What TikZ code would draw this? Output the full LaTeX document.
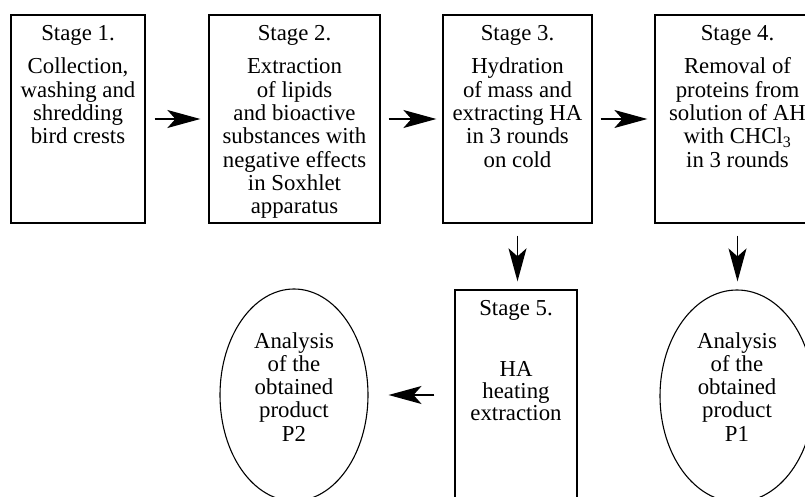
\documentclass[tikz,border=0pt]{standalone}
\usepackage{fontspec}
\setmainfont{Liberation Serif}
\usetikzlibrary{arrows.meta,shapes.geometric}
\begin{document}
\begin{tikzpicture}[x=1pt,y=-1pt,
  box/.style={draw, line width=1.3pt, rectangle, inner sep=0pt},
  oval/.style={draw, line width=1.1pt, ellipse, inner sep=0pt, minimum width=148pt, minimum height=212pt},
  txt/.style={align=center, anchor=base, inner sep=0pt, font=\fontsize{22.8}{23.3}\selectfont},
  arr/.style={line width=1.5pt, -{Stealth[length=33pt,width=18pt,inset=8pt]}}]
\useasboundingbox (0,0) rectangle (805,497);
% boxes
\node[box, minimum width=134pt, minimum height=208pt] (s1) at (78,119) {};
\node[box, minimum width=171pt, minimum height=208pt] (s2) at (294.5,119) {};
\node[box, minimum width=149pt, minimum height=208pt] (s3) at (517.5,119) {};
\node[box, minimum width=165pt, minimum height=208pt] (s4) at (737.5,119) {};
\node[box, minimum width=122pt, minimum height=230pt] (s5) at (516,405) {};
\node[oval] (p2) at (294,395) {};
\node[oval, minimum width=154pt] (p1) at (737,396) {};
% texts (anchor base = baseline of the last line)
\node[txt] (t1) at (78,40.7) {Stage 1.};
\node[txt] (b1) at (78,143.9) {Collection,\\washing and\\shredding\\bird crests};
\node[txt] (t2) at (294.5,40.7) {Stage 2.};
\node[txt] (b2) at (294.5,213.8) {Extraction\\of lipids\\and bioactive\\substances with\\negative effects\\in Soxhlet\\apparatus};
\node[txt] (t3) at (517.5,40.7) {Stage 3.};
\node[txt] (b3) at (517.5,167.2) {Hydration\\of mass and\\extracting HA\\in 3 rounds\\on cold};
\node[txt] (t4) at (737.5,40.7) {Stage 4.};
\node[txt] (b4) at (737.5,167.2) {Removal of\\proteins from\\solution of AH\\with CHCl\textsubscript{3}\\in 3 rounds};
\node[txt] (t5) at (516,315) {Stage 5.};
\node[txt, font=\fontsize{22.8}{21.8}\selectfont] (b5) at (516,420.3) {HA\\heating\\extraction};
\node[txt] (e2) at (294,441.2) {Analysis\\of the\\obtained\\product\\P2};
\node[txt] (e1) at (737,441.2) {Analysis\\of the\\obtained\\product\\P1};
% arrows
\draw[arr, shorten <=9pt, shorten >=8pt] (s1.east) -- (s2.west);
\draw[arr, shorten <=8pt, shorten >=6pt] (s2.east) -- (s3.west);
\draw[arr, shorten <=8pt, shorten >=7pt] (s3.east) -- (s4.west);
\draw[arr, shorten <=12pt, shorten >=8pt] (s3.south) -- (s3.south |- s5.north);
\draw[arr, shorten <=12pt, shorten >=8pt] (s4.south) -- (s4.south |- p1.north);
\draw[arr, shorten <=20pt, shorten >=20pt] (s5.west |- p2.east) -- (p2.east);
\end{tikzpicture}
\end{document}
